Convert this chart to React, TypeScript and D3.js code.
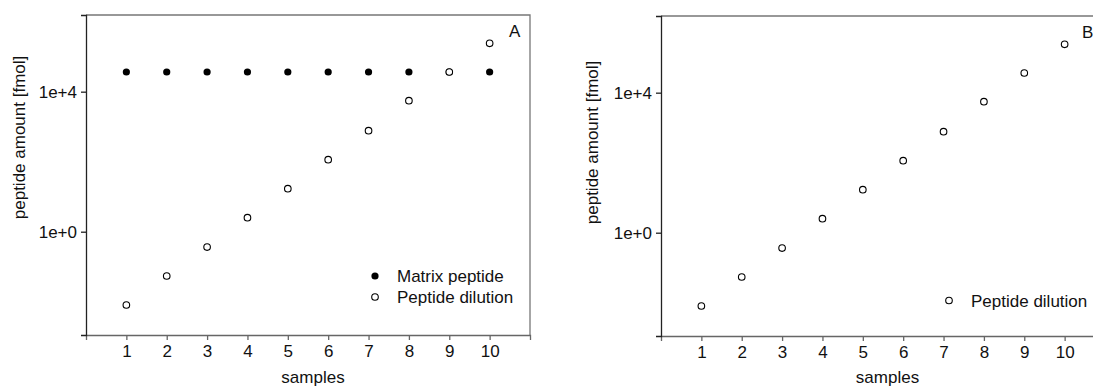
import React, { useEffect, useRef } from "react";
import * as d3 from "d3";

// data
const samples = [1, 2, 3, 4, 5, 6, 7, 8, 9, 10];
const matrixPeptide = [36500, 36500, 36500, 36500, 36500, 36500, 36500, 36500, 36500, 36500];
const peptideDilution = [0.00805, 0.0542, 0.365, 2.51, 16.9, 114, 769, 5530, 36500, 241000];
const yTicks = [1, 10000];
const xTicks = [1, 2, 3, 4, 5, 6, 7, 8, 9, 10];

const FONT = "'Liberation Sans', Arial, Helvetica, sans-serif";
const FS = 17;

type PanelProps = {
  id: string;
  left: number;
  right: number;
  top: number;
  bottom: number;
  letter: string;
  letterX: number;
  legendX: number;
  legendY: number;
  yLabelX: number;
  yLabelY: number;
  xLabelX: number;
  showMatrix: boolean;
};

function Panel(props: PanelProps) {
  const ref = useRef<SVGGElement>(null);
  const { left, right, top, bottom } = props;

  useEffect(() => {
    const g = d3.select(ref.current);
    g.selectAll("*").remove();

    const x = d3.scaleLinear().domain([0, 11]).range([left, right]);
    const y = d3.scaleLog().domain([0.00112, 1.55e6]).range([bottom, top]);

    // box top + right
    g.append("path")
      .attr("d", `M${left},${top}H${right}V${bottom}`)
      .attr("fill", "none")
      .attr("stroke", "#777")
      .attr("stroke-width", 1.3);

    const xAxis = g
      .append("g")
      .attr("transform", `translate(0,${bottom})`)
      .call(
        d3
          .axisBottom(x)
          .tickValues(xTicks)
          .tickSize(5)
          .tickSizeOuter(5)
          .tickPadding(5)
          .tickFormat((d) => String(d))
      );
    xAxis.selectAll("path,line").attr("stroke", "#666").attr("stroke-width", 1.3);

    const yAxis = g
      .append("g")
      .attr("transform", `translate(${left},0)`)
      .call(
        d3
          .axisLeft(y)
          .tickValues(yTicks)
          .tickSize(5)
          .tickSizeOuter(5)
          .tickPadding(4)
          .tickFormat(d3.format(".0e"))
      );
    yAxis.selectAll("path,line").attr("stroke", "#222").attr("stroke-width", 1.3);

    [xAxis, yAxis].forEach((a) => {
      a.attr("font-family", FONT).attr("font-size", FS);
      a.selectAll("text").attr("fill", "#111");
    });

    // matrix peptide (filled)
    if (props.showMatrix) {
      g.append("g")
        .selectAll("circle")
        .data(matrixPeptide)
        .join("circle")
        .attr("cx", (d, i) => x(samples[i]))
        .attr("cy", (d) => y(d))
        .attr("r", 3.6)
        .attr("fill", "#000");
    }

    // peptide dilution (open)
    g.append("g")
      .selectAll("circle")
      .data(peptideDilution)
      .join("circle")
      .attr("cx", (d, i) => x(samples[i]))
      .attr("cy", (d) => y(d))
      .attr("r", 3.3)
      .attr("fill", "#fff")
      .attr("stroke", "#000")
      .attr("stroke-width", 1.1);

    // legend
    const legend = g.append("g").attr("font-family", FONT).attr("font-size", FS);
    const items = props.showMatrix
      ? [
          { label: "Matrix peptide", filled: true },
          { label: "Peptide dilution", filled: false },
        ]
      : [{ label: "Peptide dilution", filled: false }];
    items.forEach((it, i) => {
      const cy = props.legendY + i * 21;
      legend
        .append("circle")
        .attr("cx", props.legendX)
        .attr("cy", cy)
        .attr("r", it.filled ? 3.6 : 3.3)
        .attr("fill", it.filled ? "#000" : "#fff")
        .attr("stroke", "#000")
        .attr("stroke-width", it.filled ? 0 : 1.1);
      legend
        .append("text")
        .attr("x", props.legendX + 22)
        .attr("y", cy + 6.2)
        .attr("fill", "#111")
        .text(it.label);
    });

    // panel letter
    g.append("text")
      .attr("x", props.letterX)
      .attr("y", top + 22)
      .attr("font-family", FONT)
      .attr("font-size", FS)
      .attr("fill", "#111")
      .text(props.letter);

    // axis titles
    g.append("text")
      .attr("x", props.xLabelX)
      .attr("y", 383)
      .attr("text-anchor", "middle")
      .attr("font-family", FONT)
      .attr("font-size", FS)
      .attr("fill", "#111")
      .text("samples");

    g.append("text")
      .attr("transform", `translate(${props.yLabelX},${props.yLabelY}) rotate(-90)`)
      .attr("text-anchor", "middle")
      .attr("font-family", FONT)
      .attr("font-size", FS)
      .attr("fill", "#111")
      .text("peptide amount [fmol]");
  }, []);

  return <g ref={ref} />;
}

export default function App() {
  return (
    <svg
      width={1093}
      height={387}
      style={{ position: "absolute", left: 0, top: 0, background: "#fff" }}
    >
      <Panel
        id="a"
        left={86}
        right={530}
        top={15}
        bottom={335}
        letter="A"
        letterX={509}
        legendX={375}
        legendY={276}
        yLabelX={24.5}
        yLabelY={137.5}
        xLabelX={313}
        showMatrix={true}
      />
      <Panel
        id="b"
        left={661}
        right={1105}
        top={16}
        bottom={336}
        letter="B"
        letterX={1082}
        legendX={949}
        legendY={300.5}
        yLabelX={598}
        yLabelY={142.5}
        xLabelX={887.5}
        showMatrix={false}
      />
    </svg>
  );
}
